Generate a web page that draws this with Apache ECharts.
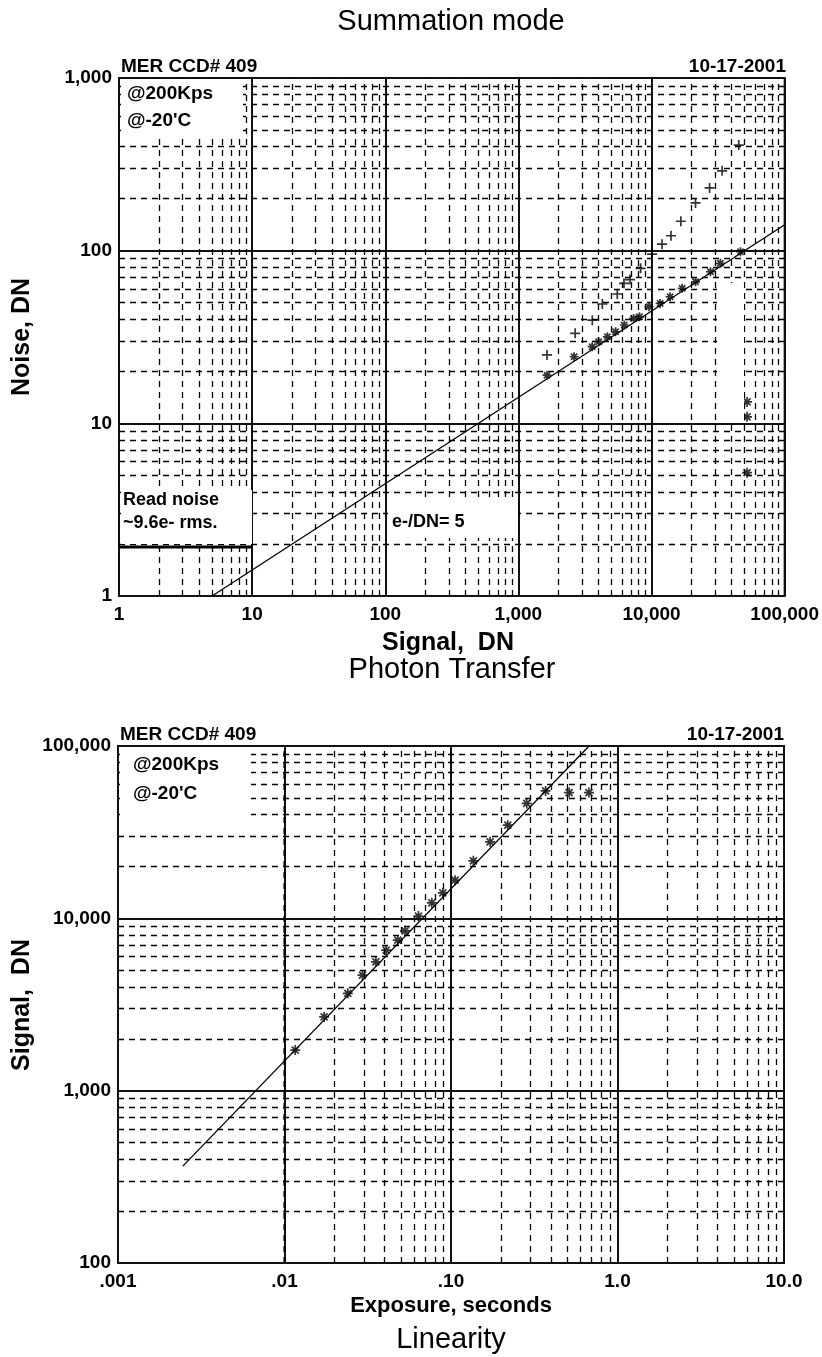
<!DOCTYPE html>
<html><head><meta charset="utf-8">
<script src="https://cdn.jsdelivr.net/npm/echarts@6/dist/echarts.min.js"></script>
<style>html,body{margin:0;padding:0;background:#fff}#c{width:822px;height:1357px}</style>
</head><body><div id="c"></div>
<script>
// ---------- Photon transfer data (Signal DN, Noise DN) ----------
const totalNoiseSignal = [1640, 2670, 3590, 4270, 5530, 6210, 6890, 8280, 10100, 12000, 14000, 16600, 21400, 27300, 33900, 45200];
const totalNoiseDN     = [24.9, 33.2, 39.6, 49.1, 56.1, 64.7, 68.0, 79.0, 95.6, 109, 122, 148, 189, 231, 290, 409];
const shotNoiseSignal  = [1640, 2620, 3580, 4010, 4660, 5370, 6240, 7340, 8120, 9570, 11600, 13800, 17000, 21400, 27700, 32900, 46600];
const shotNoiseDN      = [19.0, 24.3, 27.8, 29.7, 31.7, 33.9, 37.1, 40.5, 41.4, 47.3, 49.5, 54.1, 60.5, 66.0, 75.5, 84.5, 98.6];
const satSignal        = [52200, 52200, 52200];
const satNoiseDN       = [13.3, 10.9, 5.18];
const fitPTSignal      = [5, 100000];
const fitPTNoise       = [1, 141.4];
const readNoiseSignal  = [1, 10];
const readNoiseDN      = [1.92, 1.92];
const ptXLabels = ['1', '10', '100', '1,000', '10,000', '100,000'];
const ptYLabels = ['1', '10', '100', '1,000'];

// ---------- Linearity data (Exposure s, Signal DN) ----------
const linExposure = [0.0116, 0.0173, 0.0240, 0.0294, 0.0354, 0.0408, 0.0479, 0.0530, 0.0637, 0.0767, 0.0893, 0.1058, 0.1363, 0.1717, 0.2193, 0.285, 0.370, 0.512, 0.674];
const linSignal   = [1720, 2680, 3670, 4680, 5590, 6540, 7470, 8460, 10300, 12300, 14060, 16660, 21560, 27780, 34720, 46400, 54900, 53700, 53700];
const fitLinExposure = [0.00245, 0.675];
const fitLinSignal   = [365, 100000];
const linXLabels = ['.001', '.01', '.10', '1.0', '10.0'];
const linYLabels = ['100', '1,000', '10,000', '100,000'];

const zip = (a, b) => a.map((v, i) => [v, b[i]]);
const minorVals = (e0, e1) => { const r = []; for (let e = e0; e < e1; e++) for (let m = 2; m <= 9; m++) r.push(+(m * Math.pow(10, e)).toPrecision(6)); return r; };
const lbl = (arr, off) => v => arr[Math.round(Math.log10(v)) - off] || '';

const FONT = '"Liberation Sans", Arial, sans-serif';
const INK = '#111';
const PLUS = 'path://M5,0L5,10M0,5L10,5';
const STAR = 'path://M5,0L5,10M0,5L10,5M1.5,1.5L8.5,8.5M8.5,1.5L1.5,8.5';

function minorMarkLine(xs, ys) {
  return {
    silent: true, symbol: ['none', 'none'], label: { show: false },
    lineStyle: { type: [6, 5], color: '#000', width: 1.3 },
    emphasis: { disabled: true },
    data: [...xs.map(v => ({ xAxis: v })), ...ys.map(v => ({ yAxis: v }))]
  };
}
function logAxis(gi, min, max, labels, off, isY) {
  return {
    type: 'log', logBase: 10, gridIndex: gi, min, max, splitNumber: Math.round(Math.log10(max / min)),
    axisLine: { show: false }, axisTick: { show: false },
    splitLine: { show: true, lineStyle: { color: INK, width: 2 } },
    axisLabel: { formatter: lbl(labels, off), color: '#000', fontFamily: FONT, fontWeight: 'bold', fontSize: 19, margin: isY ? 7 : 9, showMinLabel: true, showMaxLabel: true }
  };
}
const scat = (name, x, y, sym, size, xi) => ({
  name, type: 'scatter', xAxisIndex: xi, yAxisIndex: xi, data: zip(x, y), symbol: sym, symbolSize: size,
  itemStyle: { color: 'rgba(0,0,0,0)', borderColor: '#000', borderWidth: 1.7 }, z: 5
});
const txt = (text, x, y, size, weight, align, extra) => Object.assign({
  type: 'text', z: 110, x, y,
  style: { text, x: 0, y: 0, fill: '#000', font: `${weight} ${size}px ${FONT}`, align: align || 'left', verticalAlign: 'middle' }
}, extra || {});
const box = (x, y, w, h) => ({ type: 'rect', z: 100, shape: { x, y, width: w, height: h }, style: { fill: '#fff' } });

const chart = echarts.init(document.getElementById('c'), null, { renderer: 'canvas' });
chart.setOption({
  animation: false,
  backgroundColor: '#fff',
  grid: [
    { left: 119, top: 78, width: 667, height: 518, show: true, borderColor: INK, borderWidth: 2, backgroundColor: 'transparent' },
    { left: 118, top: 746, width: 666, height: 517, show: true, borderColor: INK, borderWidth: 2, backgroundColor: 'transparent' }
  ],
  xAxis: [logAxis(0, 1, 100000, ptXLabels, 0, false), logAxis(1, 0.001, 10, linXLabels, -3, false)],
  yAxis: [logAxis(0, 1, 1000, ptYLabels, 0, true), logAxis(1, 100, 100000, linYLabels, 2, true)],
  series: [
    { name: 'fitPT', type: 'line', xAxisIndex: 0, yAxisIndex: 0, data: zip(fitPTSignal, fitPTNoise), symbol: 'none',
      lineStyle: { color: '#000', width: 1.3 }, z: 3, markLine: minorMarkLine(minorVals(0, 5), minorVals(0, 3)) },
    { name: 'readNoise', type: 'line', xAxisIndex: 0, yAxisIndex: 0, data: zip(readNoiseSignal, readNoiseDN), symbol: 'none',
      lineStyle: { color: '#000', width: 3 }, z: 120 },
    scat('total', totalNoiseSignal, totalNoiseDN, PLUS, 10, 0),
    scat('shot', shotNoiseSignal, shotNoiseDN, STAR, 9, 0),
    scat('sat', satSignal, satNoiseDN, STAR, 10, 0),
    { name: 'fitLin', type: 'line', xAxisIndex: 1, yAxisIndex: 1, data: zip(fitLinExposure, fitLinSignal), symbol: 'none',
      lineStyle: { color: '#000', width: 1.3 }, z: 3, markLine: minorMarkLine(minorVals(-3, 1), minorVals(2, 5)) },
    scat('lin', linExposure, linSignal, STAR, 10, 1)
  ],
  graphic: [
    box(121, 80, 122, 58),
    box(121, 490, 131, 54),
    box(388, 497, 130, 41),
    box(717, 283, 27, 139),
    box(120, 748, 131, 77),
    txt('Summation mode', 451, 22, 29, 'normal', 'center'),
    txt('MER CCD# 409', 121, 67, 19, 'bold'),
    txt('10-17-2001', 786, 67, 19, 'bold', 'right'),
    txt('@200Kps', 127, 94, 19, 'bold'),
    txt('@-20\'C', 127, 121, 19, 'bold'),
    txt('Read noise', 123, 500, 18, 'bold'),
    txt('~9.6e- rms.', 123, 523, 18, 'bold'),
    txt('e-/DN= 5', 392, 522, 18, 'bold'),
    txt('Signal,  DN', 448, 643, 25, 'bold', 'center'),
    txt('Noise, DN', 22, 337, 25, 'bold', 'center', { rotation: Math.PI / 2 }),
    txt('Photon Transfer', 452, 670, 29, 'normal', 'center'),
    txt('MER CCD# 409', 120, 735, 19, 'bold'),
    txt('10-17-2001', 784, 735, 19, 'bold', 'right'),
    txt('@200Kps', 133, 765, 19, 'bold'),
    txt('@-20\'C', 133, 794, 19, 'bold'),
    txt('Exposure, seconds', 451, 1306, 22, 'bold', 'center'),
    txt('Signal,  DN', 22, 1005, 25, 'bold', 'center', { rotation: Math.PI / 2 }),
    txt('Linearity', 451, 1340, 29, 'normal', 'center')
  ]
});
</script></body></html>
